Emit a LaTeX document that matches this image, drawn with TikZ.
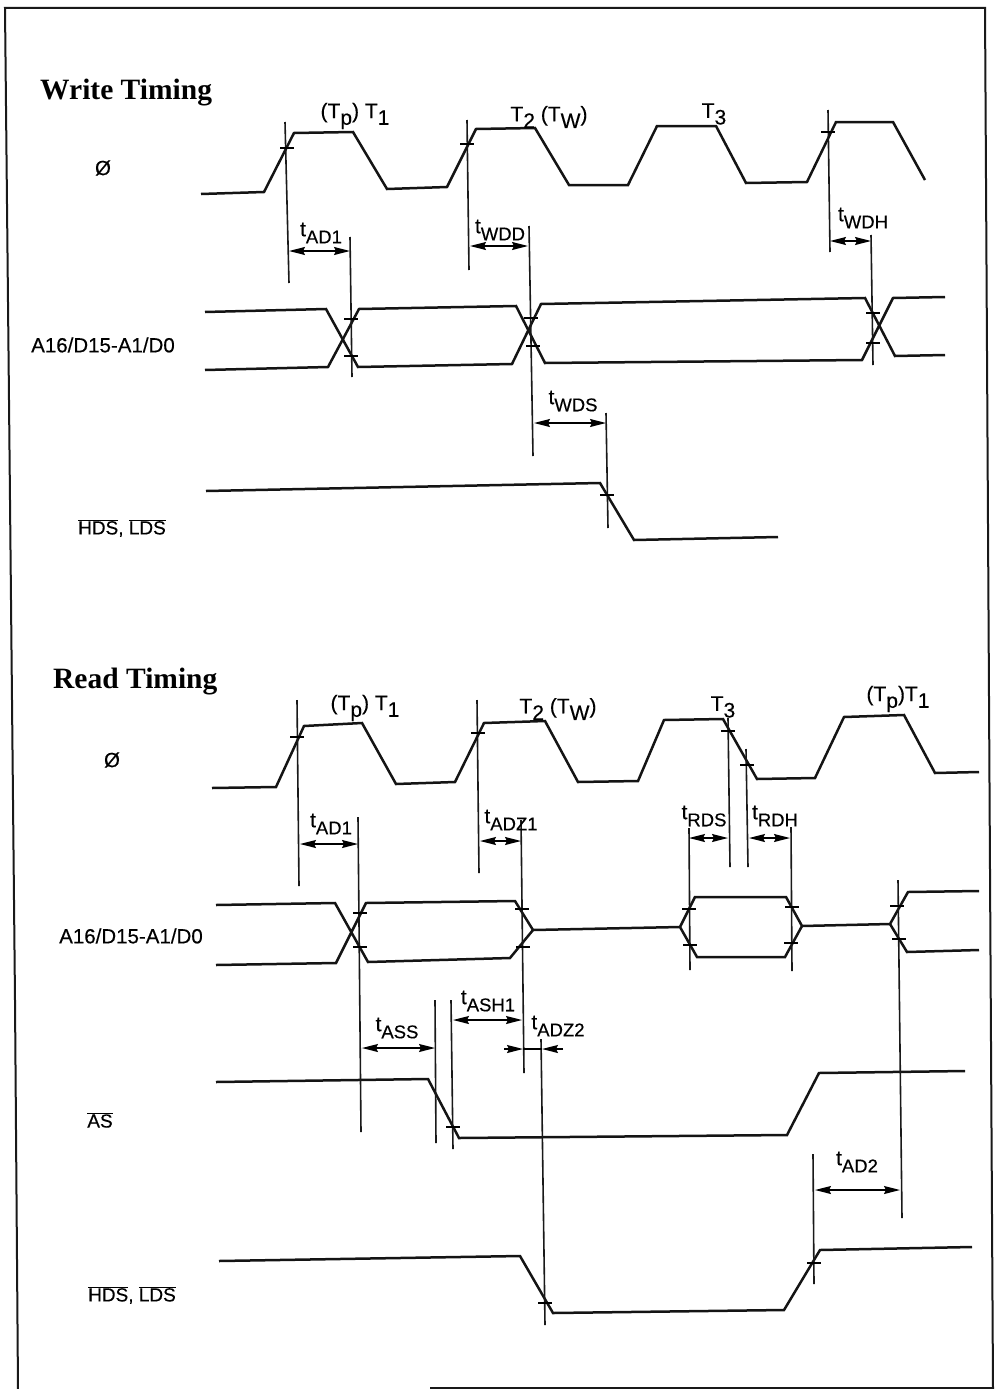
\documentclass[tikz,border=0pt]{standalone}
\usepackage{fontspec}
\setmainfont[FakeBold=0.35]{Liberation Sans}
\newfontfamily\headfont{Liberation Serif}
\usetikzlibrary{arrows.meta}
\newcommand{\lo}[1]{\raisebox{-0.32em}{#1}}
\newcommand{\tl}[1]{t\raisebox{-0.34em}{\fontsize{18.5}{19}\selectfont #1}}
\tikzset{
  wave/.style={line width=2.5pt,line join=miter,black!92},
  vline/.style={line width=1.6pt,black!90},
  frameline/.style={line width=2pt,black!90},
  dim/.style={line width=1.5pt,{Stealth[length=16pt,width=8pt,inset=2pt]}-{Stealth[length=16pt,width=8pt,inset=2pt]}},
  dimout/.style={line width=1.5pt,-{Stealth[length=16pt,width=8pt,inset=2pt]}},
  ticka/.style={line width=1.7pt},
  head/.style={font=\headfont\fontsize{29.5}{30}\selectfont\bfseries,inner sep=0pt},
  sig/.style={font=\fontsize{20.5}{21}\selectfont,inner sep=0pt},
  sigb/.style={font=\fontsize{19}{20}\selectfont,inner sep=0pt},
  tlabel/.style={font=\fontsize{21}{22}\selectfont,inner sep=0pt},
}
\begin{document}
\begin{tikzpicture}[x=1pt,y=-1pt]
\useasboundingbox (0,0) rectangle (996,1389);
% frame
\draw[frameline] (18,1389) -- (15,1000) -- (9,400) -- (5,8) -- (985,8) -- (993,1389);
\draw[frameline] (430,1388) -- (993,1388);
% headings
\node[head,anchor=west] (hw) at (40,93) {Write Timing};
\node[head,anchor=west] (hr) at (53,682) {Read Timing};
% signal names
\node[sig] (s1) at (103,168) {Ø};
\node[sig] (s2) at (103,345) {A16/D15-A1/D0};
\node[sigb] (s3) at (122,528) {$\overline{\mbox{HDS}}$, $\overline{\mbox{LDS}}$};
\node[sig] (s4) at (112,760) {Ø};
\node[sig] (s5) at (131,936) {A16/D15-A1/D0};
\node[sigb] (s6) at (100,1120) {$\overline{\mbox{AS}}$};
\node[sigb] (s7) at (132,1295) {$\overline{\mbox{HDS}}$, $\overline{\mbox{LDS}}$};
% write waves
\draw[wave] (201,194) -- (264,192) -- (294,133) -- (353,132) -- (387,189) -- (447,187) -- (476,129) -- (535,128) -- (569,185) -- (628,185) -- (657,126) -- (716,126) -- (746,183) -- (807,182) -- (836,122) -- (893,122) -- (925,180);
\draw[wave] (205,312) -- (326,309) -- (358,367) -- (512,364) -- (541,304) -- (865,298) -- (895,356) -- (945,355);
\draw[wave] (205,370) -- (328,367) -- (359,309) -- (516,306) -- (545,363) -- (862,360) -- (893,298) -- (945,297);
\draw[wave] (206,491) -- (600,483) -- (634,540) -- (778,537);
% write verticals
\draw[vline] (285,122) -- (289,283);
\draw[vline] (467,120) -- (469,270);
\draw[vline] (350,237) -- (352,377);
\draw[vline] (529,226) -- (533,456);
\draw[vline] (828,110) -- (830,252);
\draw[vline] (871,235) -- (873,365);
\draw[vline] (606,413) -- (608,528);
% write ticks
\foreach \x/\y in {287/148,467/144,828/132,351/319,351/356,531/318,533/346,873/313,873/343,607/495}
  \draw[ticka] (\x-7,\y) -- (\x+7,\y);
% write dims
\draw[dim] (289,251) -- (350,251);
\draw[dim] (470,246) -- (528,246);
\draw[dim] (830,241) -- (871,241);
\draw[dim] (534,423) -- (606,423);
% write labels
\node[tlabel] (l1) at (355,116) {(T\lo{p}) T\lo{1}};
\node[tlabel] (l2) at (549,117) {T\lo{2} (T\lo{W})};
\node[tlabel] (l3) at (714,114) {T\lo{3}};
\node[tlabel] (l4) at (321,233) {\tl{AD1}};
\node[tlabel] (l5) at (500,230) {\tl{WDD}};
\node[tlabel] (l6) at (863,218) {\tl{WDH}};
\node[tlabel] (l7) at (573,401) {\tl{WDS}};
% read waves
\draw[wave] (212,788) -- (276,787) -- (304,726) -- (362,723) -- (396,784) -- (455,782) -- (484,723) -- (545,721) -- (578,782) -- (638,781) -- (664,720) -- (723,719) -- (757,779) -- (815,778) -- (844,717) -- (904,715) -- (935,773) -- (979,772);
\draw[wave] (216,905) -- (335,903) -- (368,962) -- (510,958) -- (533,930) -- (515,901) -- (366,903) -- (336,963) -- (216,965);
\draw[wave] (533,930) -- (680,927) -- (695,897) -- (786,897) -- (802,926) -- (785,957) -- (697,957) -- (680,927);
\draw[wave] (802,926) -- (890,924) -- (908,892) -- (979,891);
\draw[wave] (890,924) -- (907,952) -- (979,950);
\draw[wave] (216,1082) -- (428,1079) -- (459,1138) -- (787,1135) -- (819,1073) -- (965,1071);
\draw[wave] (219,1261) -- (520,1256) -- (553,1313) -- (784,1310) -- (820,1250) -- (972,1247);
% read verticals
\draw[vline] (297,700) -- (299,886);
\draw[vline] (477,700) -- (479,873);
\draw[vline] (358,817) -- (361,1132);
\draw[vline] (521,820) -- (524,1073);
\draw[vline] (728,718) -- (730,867);
\draw[vline] (746,749) -- (748,867);
\draw[vline] (689,828) -- (690,970);
\draw[vline] (791,827) -- (792,971);
\draw[vline] (898,880) -- (902,1218);
\draw[vline] (435,1000) -- (436,1143);
\draw[vline] (451,1000) -- (453,1149);
\draw[vline] (541,1039) -- (545,1325);
\draw[vline] (813,1154) -- (814,1284);
% read ticks
\foreach \x/\y in {297/737,478/733,728/731,747/765,360/913,360/947,522/909,523/947,689/909,690/945,792/907,791/943,897/906,899/939,453/1127,545/1303,814/1263}
  \draw[ticka] (\x-7,\y) -- (\x+7,\y);
% read dims
\draw[dim] (300,844) -- (358,844);
\draw[dim] (480,841) -- (521,841);
\draw[dim] (689,838) -- (728,838);
\draw[dim] (749,838) -- (790,838);
\draw[dim] (362,1048) -- (435,1048);
\draw[dim] (453,1020) -- (522,1020);
\draw[dimout] (504,1049) -- (523,1049);
\draw[dimout] (563,1049) -- (542,1049);
\draw[line width=1.5pt] (523,1049) -- (542,1049);
\draw[dim] (815,1190) -- (900,1190);
% read labels
\node[tlabel] (r1) at (365,708) {(T\lo{p}) T\lo{1}};
\node[tlabel] (r2) at (558,709) {T\lo{2} (T\lo{W})};
\node[tlabel] (r3) at (723,707) {T\lo{3}};
\node[tlabel] (r4) at (898,699) {(T\lo{p})T\lo{1}};
\node[tlabel] (r5) at (331,824) {\tl{AD1}};
\node[tlabel] (r6) at (511,820) {\tl{ADZ1}};
\node[tlabel] (r7) at (704,816) {\tl{RDS}};
\node[tlabel] (r8) at (775,816) {\tl{RDH}};
\node[tlabel] (r9) at (397,1028) {\tl{ASS}};
\node[tlabel] (r10) at (488,1001) {\tl{ASH1}};
\node[tlabel] (r11) at (558,1026) {\tl{ADZ2}};
\node[tlabel] (r12) at (857,1162) {\tl{AD2}};
\end{tikzpicture}
\end{document}
